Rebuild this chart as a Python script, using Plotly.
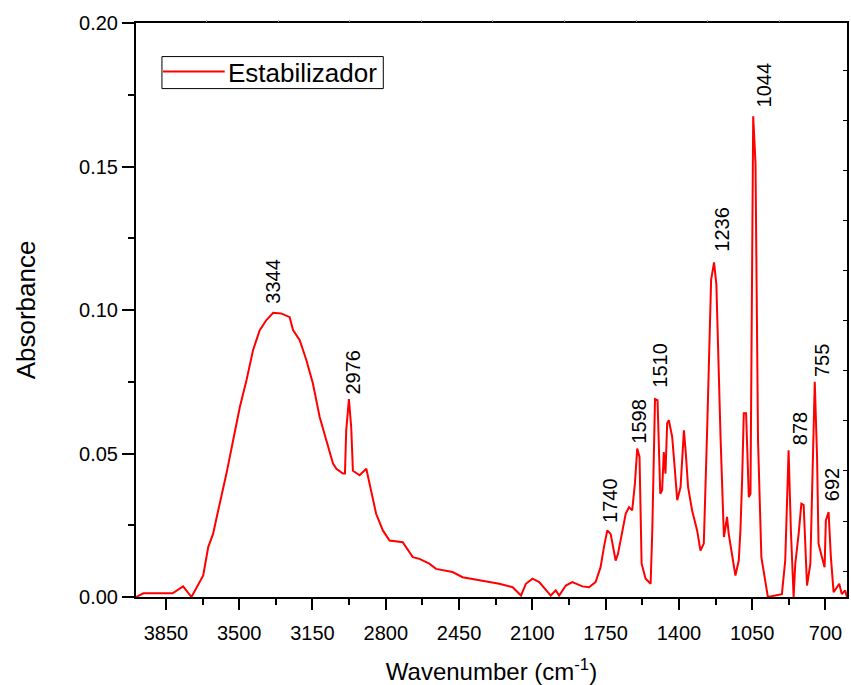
import plotly.graph_objects as go

# ---------------- data ----------------
wavenumber = [3993, 3958, 3818, 3799, 3768, 3728, 3704, 3672, 3648, 3625, 3593, 3561,
              3529, 3497, 3465, 3434, 3402, 3370, 3338, 3300, 3259, 3243, 3211, 3179,
              3148, 3116, 3084, 3052, 3036, 3005, 2995, 2989, 2976, 2965, 2957, 2925,
              2893, 2870, 2846, 2814, 2782, 2719, 2671, 2639, 2592, 2560, 2481, 2433,
              2353, 2258, 2194, 2154, 2131, 2099, 2067, 2035, 2012, 1988, 1972, 1940,
              1909, 1861, 1829, 1798, 1774, 1758, 1742, 1726, 1718, 1702, 1691, 1670,
              1654, 1638, 1623, 1610, 1599, 1588, 1578, 1559, 1535, 1527, 1514, 1502,
              1495, 1489, 1480, 1472, 1464, 1456, 1448, 1432, 1419, 1408, 1392, 1384,
              1376, 1368, 1356, 1337, 1313, 1297, 1281, 1265, 1257, 1246, 1232, 1221,
              1201, 1193, 1185, 1177, 1170, 1162, 1146, 1130, 1114, 1106, 1098, 1090,
              1079, 1074, 1066, 1058, 1045, 1034, 1022, 1006, 983, 975, 908, 892,
              876, 865, 852, 844, 828, 815, 804, 796, 788, 772, 761, 751,
              740, 733, 717, 704, 698, 685, 674, 661, 645, 634, 622, 606, 597]

absorbance = [0.0, 0.0013, 0.0013, 0.0023, 0.0037, 0.0, 0.003, 0.0075, 0.0174, 0.022, 0.0326, 0.043,
              0.0546, 0.0662, 0.0756, 0.086, 0.093, 0.0965, 0.099, 0.0988, 0.0975, 0.093, 0.0895, 0.0825,
              0.0744, 0.0628, 0.0546, 0.0465, 0.0447, 0.043, 0.043, 0.058, 0.069, 0.059, 0.044, 0.0424,
              0.0447, 0.037, 0.029, 0.0232, 0.0197, 0.0191, 0.0139, 0.0133, 0.0116, 0.0098, 0.0087, 0.0069,
              0.0058, 0.0046, 0.0034, 0.0005, 0.0046, 0.0064, 0.0052, 0.0023, 0.0005, 0.0023, 0.0005, 0.004,
              0.0052, 0.0037, 0.0034, 0.0052, 0.0104, 0.0174, 0.0232, 0.022, 0.0186, 0.0127, 0.015, 0.0232,
              0.029, 0.0313, 0.0302, 0.0395, 0.0517, 0.0488, 0.0116, 0.0064, 0.0046, 0.0232, 0.069, 0.0686,
              0.05, 0.036, 0.0372, 0.0505, 0.043, 0.0605, 0.0616, 0.0558, 0.0442, 0.0337, 0.0383, 0.047,
              0.0581, 0.0511, 0.0383, 0.0302, 0.0232, 0.0162, 0.0186, 0.0581, 0.0825, 0.1105, 0.1166, 0.109,
              0.0558, 0.0407, 0.0209, 0.0244, 0.0279, 0.022, 0.0139, 0.0075, 0.0127, 0.0232, 0.0407, 0.064,
              0.064, 0.0546, 0.0348, 0.036, 0.1675, 0.151, 0.0546, 0.0139, 0.0023, 0.0, 0.001, 0.0127,
              0.0511, 0.0232, 0.0, 0.0116, 0.022, 0.0325, 0.032, 0.0197, 0.004, 0.0116, 0.0465, 0.075,
              0.0488, 0.0186, 0.0139, 0.0104, 0.0267, 0.0296, 0.0139, 0.0017, 0.0034, 0.0046, 0.001, 0.0023, 0.0]

series_name = "Estabilizador"

peak_labels = ["3344", "2976", "1740", "1598", "1510", "1236", "1044", "878", "755", "692"]
peak_label_x = [3340, 2957, 1726, 1591, 1492, 1194, 995, 823, 717, 669]
peak_label_y = [0.1101, 0.0785, 0.0337, 0.0614, 0.0808, 0.128, 0.1785, 0.0587, 0.0825, 0.0393]

x_tick_values = [3850, 3500, 3150, 2800, 2450, 2100, 1750, 1400, 1050, 700]
y_tick_values = [0.00, 0.05, 0.10, 0.15, 0.20]

FONT = "Liberation Sans, Arial, sans-serif"
RED = "#ff0000"

fig = go.Figure()
fig.add_trace(go.Scatter(x=wavenumber, y=absorbance, mode="lines", name=series_name,
                         line=dict(color=RED, width=2), showlegend=False))
# empty trace so the decorative top/right axes get drawn
fig.add_trace(go.Scatter(x=[], y=[], xaxis="x2", yaxis="y2", showlegend=False, hoverinfo="skip"))

annotations = []
for txt, xv, yv in zip(peak_labels, peak_label_x, peak_label_y):
    annotations.append(dict(x=xv, y=yv, xref="x", yref="y", text=txt, showarrow=False,
                            textangle=-90, xanchor="center", yanchor="middle",
                            font=dict(family=FONT, size=20, color="black")))

# manual legend (box, line sample, text)
annotations.append(dict(x=0.1262, y=0.9136, xref="paper", yref="paper", text=series_name,
                        showarrow=False, xanchor="left", yanchor="middle",
                        font=dict(family=FONT, size=26, color="black")))
shapes = [
    dict(type="rect", xref="paper", yref="paper", x0=0.0365, x1=0.3478, y0=0.8857, y1=0.9415,
         line=dict(color="black", width=1), fillcolor="rgba(0,0,0,0)"),
    dict(type="line", xref="paper", yref="paper", x0=0.0379, x1=0.1248, y0=0.9154, y1=0.9154,
         line=dict(color=RED, width=2)),
]

fig.update_layout(
    width=851, height=685,
    margin=dict(l=136, r=2, t=23, b=88),
    paper_bgcolor="white", plot_bgcolor="white",
    font=dict(family=FONT, color="black", size=20),
    annotations=annotations, shapes=shapes,
    xaxis=dict(range=[3993, 597], tickvals=x_tick_values, ticks="outside", ticklen=11, tickwidth=2,
               tickcolor="black", showline=True, linecolor="black", linewidth=2, mirror=True,
               showgrid=False, zeroline=False, tickfont=dict(size=20), ticklabelstandoff=6,
               minor=dict(ticks="outside", ticklen=6, tickwidth=2, tickcolor="black", dtick=175, tick0=700),
               title=dict(text="Wavenumber (cm<sup>-1</sup>)", font=dict(size=24), standoff=20)),
    yaxis=dict(range=[0, 0.2], tickvals=y_tick_values, tickformat=".2f", ticks="outside", ticklen=12,
               tickwidth=2, tickcolor="black", showline=True, linecolor="black", linewidth=2,
               mirror=True, showgrid=False, zeroline=False, tickfont=dict(size=20),
               minor=dict(ticks="outside", ticklen=6, tickwidth=2, tickcolor="black", dtick=0.025, tick0=0),
               title=dict(text="Absorbance", font=dict(size=26), standoff=36)),
    xaxis2=dict(overlaying="x", side="top", anchor="y", range=[0, 713], tick0=70.7, dtick=71.8,
                ticks="outside", ticklen=2, tickwidth=1, tickcolor="#9a9a9a", showticklabels=False,
                showline=False, showgrid=False, zeroline=False),
    yaxis2=dict(overlaying="y", side="right", anchor="x", range=[0, 573], tick0=25.8, dtick=50,
                ticks="inside", ticklen=4, tickwidth=1, tickcolor="black", showticklabels=False,
                showline=False, showgrid=False, zeroline=False),
)

fig.write_html("out.html")
